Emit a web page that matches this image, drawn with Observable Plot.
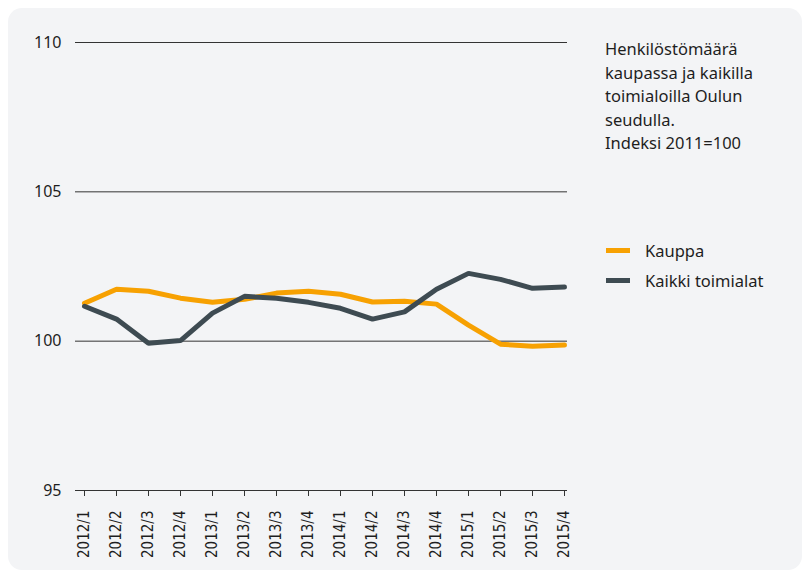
<!DOCTYPE html>
<html>
<head>
<meta charset="utf-8">
<script src="https://cdn.jsdelivr.net/npm/d3@7"></script>
<script src="https://cdn.jsdelivr.net/npm/@observablehq/plot@0.6"></script>
<style>
  html, body { margin: 0; padding: 0; background: #ffffff; }
  #panel { position: absolute; left: 8px; top: 8px; width: 794px; height: 562px; background: #f3f4f6; border-radius: 14px; }
  #chart { position: absolute; left: 0; top: 0; }
  #title { position: absolute; left: 605px; top: 37px; font-family: "Noto Sans", sans-serif; font-size: 16.5px; line-height: 23.5px; color: #1e1e1e; }
  #legend { position: absolute; left: 606px; top: 235px; font-family: "Noto Sans", sans-serif; font-size: 16.5px; color: #1e1e1e; }
  .item { display: flex; align-items: center; height: 30px; }
  .sw { width: 24px; height: 5px; margin-right: 15px; }
</style>
</head>
<body>
<div id="panel"></div>
<div id="chart"></div>
<div id="title">Henkilöstömäärä<br>kaupassa ja kaikilla<br>toimialoilla Oulun<br>seudulla.<br>Indeksi 2011=100</div>
<div id="legend"></div>
<script>
const quarters = ["2012/1","2012/2","2012/3","2012/4","2013/1","2013/2","2013/3","2013/4","2014/1","2014/2","2014/3","2014/4","2015/1","2015/2","2015/3","2015/4"];
const kauppa = [101.27,101.74,101.67,101.44,101.30,101.40,101.61,101.67,101.57,101.31,101.34,101.24,100.54,99.90,99.83,99.87];
const kaikki = [101.17,100.74,99.93,100.02,100.94,101.50,101.44,101.30,101.10,100.74,100.98,101.74,102.27,102.07,101.77,101.81];
const seriesNames = ["Kauppa", "Kaikki toimialat"];
const seriesColors = ["#f7a102", "#3e4b52"];
const yTicks = [95, 100, 105, 110];

const rows = [];
quarters.forEach((q, i) => rows.push({q, v: kauppa[i], s: seriesNames[0]}));
quarters.forEach((q, i) => rows.push({q, v: kaikki[i], s: seriesNames[1]}));

const chart = Plot.plot({
  width: 580,
  height: 577,
  marginLeft: 75,
  marginRight: 13,
  marginTop: 42,
  marginBottom: 87,
  style: { background: "transparent", fontFamily: "'Noto Sans', sans-serif", color: "#1e1e1e" },
  x: { type: "point", domain: quarters, range: [84, 564], padding: 0 },
  y: { domain: [95, 110] },
  color: { domain: seriesNames, range: seriesColors },
  marks: [
    Plot.ruleY(yTicks.filter(d => d !== 95), { stroke: "#333", strokeWidth: 1 }),
    Plot.ruleY([95], { stroke: "#333", strokeWidth: 1.2 }),
    Plot.axisY({ ticks: yTicks, tickSize: 0, tickPadding: 14, fontSize: 16, tickFormat: d => String(d), label: null }),
    Plot.axisX({ tickSize: 6, tickPadding: 14, tickRotate: -90, fontSize: 15, stroke: "#333",
      fontFamily: "'DejaVu Sans Condensed', 'Liberation Sans Narrow', sans-serif", fontStretch: "condensed", label: null }),
    Plot.line(rows, { x: "q", y: "v", z: "s", stroke: "s", strokeWidth: 5, strokeLinejoin: "miter" })
  ]
});
document.getElementById("chart").appendChild(chart);

const leg = document.getElementById("legend");
seriesNames.forEach((n, i) => {
  const it = document.createElement("div");
  it.className = "item";
  it.innerHTML = `<span class="sw" style="background:${seriesColors[i]}"></span><span>${n}</span>`;
  leg.appendChild(it);
});
</script>
</body>
</html>
